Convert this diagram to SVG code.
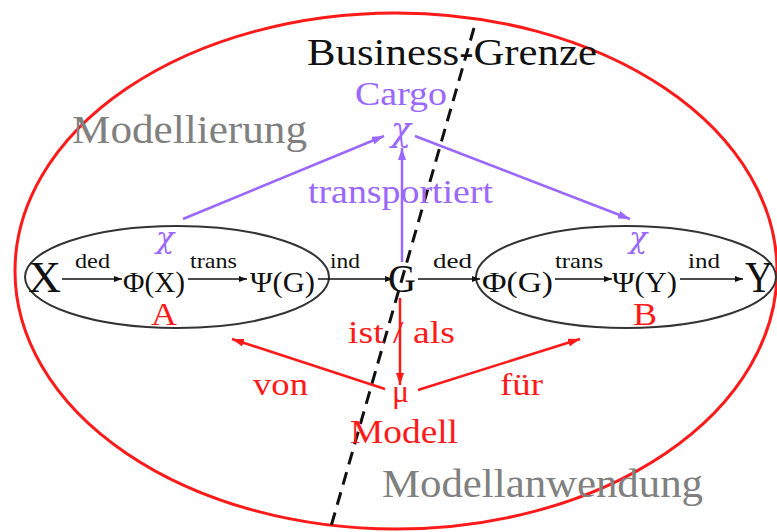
<svg xmlns="http://www.w3.org/2000/svg" width="777" height="532" viewBox="0 0 777 532">
<defs>
<style>
text{font-family:"Liberation Serif","Times New Roman",serif;}
.blk{fill:#111;}
.pur{fill:#9a68ff;}
.red{fill:#ff1a1a;}
.gry{fill:#808080;}
.chi{font-family:"DejaVu Serif",serif;font-style:italic;}
.lbl{font-size:22px;fill:#111;}
.main{font-size:30px;fill:#111;}
.big{font-size:44px;fill:#111;}
.la{stroke:#111;stroke-width:1.5;fill:none;}
.lp{stroke:#9a68ff;stroke-width:2.5;fill:none;}
.lr{stroke:#ff1a1a;stroke-width:2.5;fill:none;}
</style>
<marker id="mb" markerUnits="userSpaceOnUse" markerWidth="8" markerHeight="6" refX="8" refY="3" orient="auto"><path d="M0,0 L8,3 L0,6 z" fill="#111"/></marker>
<marker id="mp" markerUnits="userSpaceOnUse" markerWidth="12" markerHeight="8" refX="12" refY="4" orient="auto"><path d="M0,0 L12,4 L0,8 z" fill="#9a68ff"/></marker>
<marker id="mr" markerUnits="userSpaceOnUse" markerWidth="12" markerHeight="8" refX="12" refY="4" orient="auto"><path d="M0,0 L12,4 L0,8 z" fill="#ff1a1a"/></marker>
</defs>
<rect width="777" height="532" fill="#fff"/>

<g id="boundary">
<ellipse cx="396" cy="271" rx="381" ry="258" fill="none" stroke="#ff1a1a" stroke-width="3"/>
</g>
<g id="business-line">
<line x1="474" y1="28" x2="330" y2="530" stroke="#111" stroke-width="3" stroke-dasharray="13,8"/>
</g>

<g id="region-labels">
<text x="72" y="143" font-size="40" class="gry" textLength="235" lengthAdjust="spacingAndGlyphs">Modellierung</text>
<text x="382" y="497" font-size="40" class="gry" textLength="321" lengthAdjust="spacingAndGlyphs">Modellanwendung</text>
<text x="307" y="65" font-size="38" class="blk" textLength="290" lengthAdjust="spacingAndGlyphs">Business-Grenze</text>
</g>

<g id="A">
<ellipse cx="177" cy="277" rx="152" ry="51" fill="none" stroke="#333" stroke-width="2"/>
<text x="165" y="248" font-size="30" class="pur chi" text-anchor="middle">χ</text>
<text x="164" y="325" font-size="31" class="red" text-anchor="middle" textLength="26" lengthAdjust="spacingAndGlyphs">A</text>
</g>
<g id="B">
<ellipse cx="626" cy="277" rx="150" ry="51" fill="none" stroke="#333" stroke-width="2"/>
<text x="638" y="248" font-size="30" class="pur chi" text-anchor="middle">χ</text>
<text x="645" y="325" font-size="31" class="red" text-anchor="middle" textLength="24" lengthAdjust="spacingAndGlyphs">B</text>
</g>

<g id="X"><text x="28" y="292" class="big" textLength="33" lengthAdjust="spacingAndGlyphs">X</text></g>
<g id="PhiX"><text x="123" y="292" class="main" textLength="62" lengthAdjust="spacingAndGlyphs">Φ(X)</text></g>
<g id="PsiG"><text x="250" y="292" class="main" textLength="65" lengthAdjust="spacingAndGlyphs">Ψ(G)</text></g>
<g id="G"><text x="388" y="292" font-size="40" class="blk" textLength="28" lengthAdjust="spacingAndGlyphs">G</text></g>
<g id="PhiG"><text x="482" y="292" class="main" textLength="71" lengthAdjust="spacingAndGlyphs">Φ(G)</text></g>
<g id="PsiY"><text x="612" y="292" class="main" textLength="65" lengthAdjust="spacingAndGlyphs">Ψ(Y)</text></g>
<g id="Y"><text x="745" y="292" class="big" textLength="28" lengthAdjust="spacingAndGlyphs">Y</text></g>

<g id="Cargo">
<text x="355" y="105" font-size="34" class="pur" textLength="92" lengthAdjust="spacingAndGlyphs">Cargo</text>
<text x="401" y="141" font-size="33" class="pur chi" text-anchor="middle">χ</text>
</g>
<g id="Modell">
<text x="392" y="402" font-size="32" class="red">μ</text>
<text x="350" y="443" font-size="34" class="red" textLength="108" lengthAdjust="spacingAndGlyphs">Modell</text>
</g>

<g id="connectors">
<line x1="62" y1="279" x2="122" y2="279" class="la" marker-end="url(#mb)"/>
<line x1="188" y1="279" x2="247" y2="279" class="la" marker-end="url(#mb)"/>
<line x1="318" y1="279" x2="393" y2="279" class="la" marker-end="url(#mb)"/>
<line x1="418" y1="279" x2="480" y2="279" class="la" marker-end="url(#mb)"/>
<line x1="555" y1="279" x2="612" y2="279" class="la" marker-end="url(#mb)"/>
<line x1="680" y1="279" x2="743" y2="279" class="la" marker-end="url(#mb)"/>
<text x="75" y="268" class="lbl" textLength="35" lengthAdjust="spacingAndGlyphs">ded</text>
<text x="190" y="268" class="lbl" textLength="47" lengthAdjust="spacingAndGlyphs">trans</text>
<text x="330" y="268" class="lbl" textLength="30" lengthAdjust="spacingAndGlyphs">ind</text>
<text x="433" y="268" class="lbl" textLength="39" lengthAdjust="spacingAndGlyphs">ded</text>
<text x="555" y="268" class="lbl" textLength="48" lengthAdjust="spacingAndGlyphs">trans</text>
<text x="688" y="268" class="lbl" textLength="32" lengthAdjust="spacingAndGlyphs">ind</text>

<line x1="183" y1="219" x2="384" y2="136" class="lp" marker-end="url(#mp)"/>
<line x1="415" y1="136" x2="630" y2="219" class="lp" marker-end="url(#mp)"/>
<line x1="402" y1="262" x2="402" y2="148" class="lp" marker-end="url(#mp)"/>
<text x="308" y="203" font-size="33" class="pur" textLength="185" lengthAdjust="spacingAndGlyphs">transportiert</text>

<line x1="400" y1="298" x2="400" y2="385" class="lr" marker-end="url(#mr)"/>
<line x1="385" y1="389" x2="232" y2="339" class="lr" marker-end="url(#mr)"/>
<line x1="418" y1="390" x2="580" y2="339" class="lr" marker-end="url(#mr)"/>
<text x="348" y="343" font-size="32" class="red" textLength="107" lengthAdjust="spacingAndGlyphs">ist / als</text>
<text x="253" y="395" font-size="32" class="red" textLength="55" lengthAdjust="spacingAndGlyphs">von</text>
<text x="500" y="395" font-size="32" class="red" textLength="43" lengthAdjust="spacingAndGlyphs">für</text>
</g>
</svg>
